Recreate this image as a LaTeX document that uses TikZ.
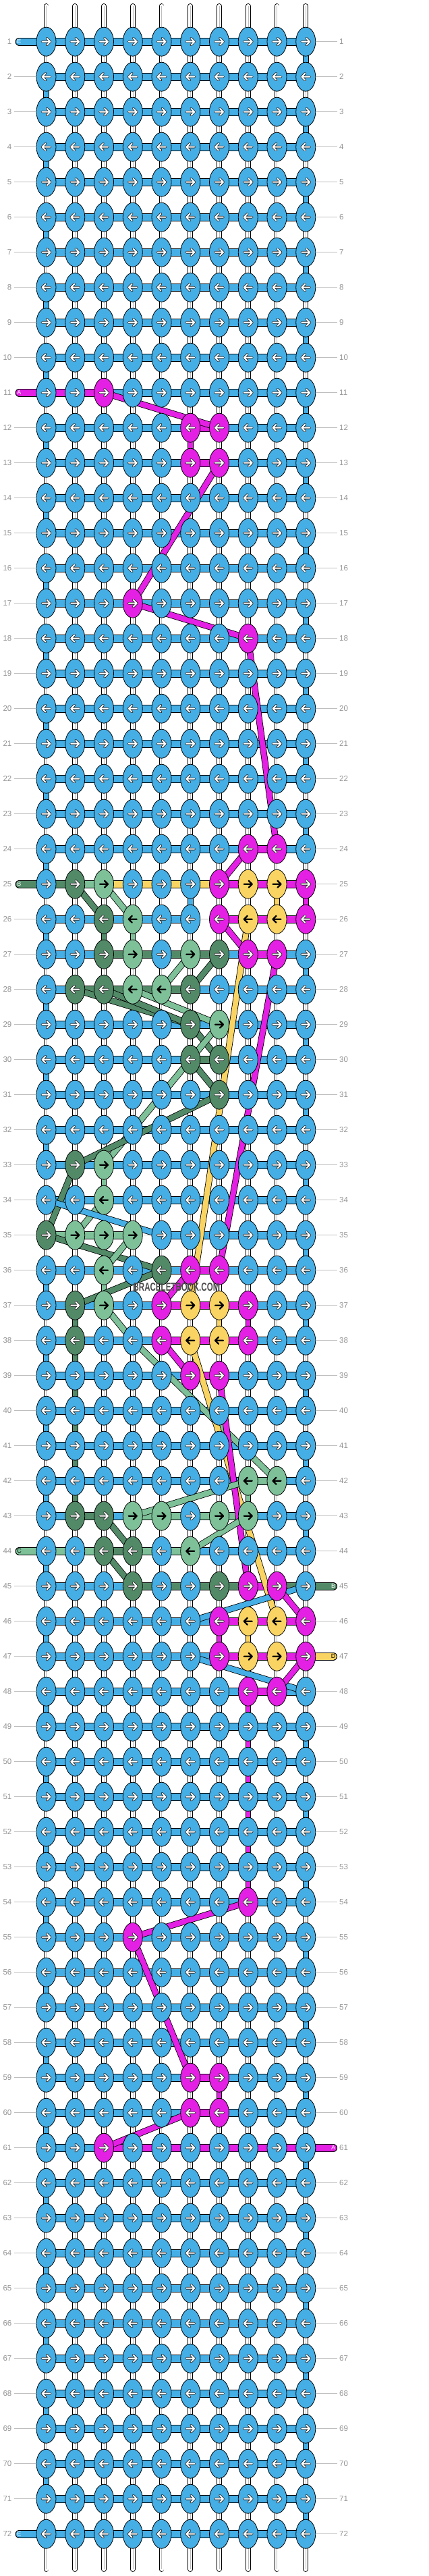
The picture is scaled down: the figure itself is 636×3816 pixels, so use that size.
\documentclass[tikz,border=0pt]{standalone}
\usepackage{fontspec}
\setmainfont{Liberation Sans}
\usetikzlibrary{shapes.geometric}

\definecolor{kblue}{RGB}{69,174,229}
\definecolor{kpink}{RGB}{228,32,228}
\definecolor{kdgreen}{RGB}{82,138,104}
\definecolor{klgreen}{RGB}{126,193,153}
\definecolor{kyellow}{RGB}{249,212,99}
\definecolor{lblgray}{RGB}{150,150,150}
\definecolor{lingray}{RGB}{190,190,190}
\definecolor{wmgray}{RGB}{75,75,75}

\pgfdeclarelayer{bg}
\pgfdeclarelayer{strands}
\pgfdeclarelayer{hthreads}
\pgfdeclarelayer{diags}
\pgfsetlayers{bg,strands,hthreads,diags,main}

\def\whitestr{white}
\def\nonestr{none}

\tikzset{
  knot/.style={ellipse, draw=black, line width=0.8pt, fill=#1,
    minimum width=29pt, minimum height=43pt, inner sep=0pt},
  hthr/.style={draw=black, line width=1pt, double=#1, double distance=10pt},
  vthr/.style={draw=black, line width=1pt, double=#1, double distance=6.5pt},
  dthr/.style={draw=black, line width=0.8pt, double=#1, double distance=8pt},
  strand/.style={draw=black, line width=0.9pt, double=white, double distance=6pt},
  strandmid/.style={draw=lingray, line width=0.5pt},
  arrw/.style={draw=white, line width=2pt, line cap=round, line join=round,
    preaction={draw=black!85, line width=3.6pt, line cap=round, line join=round}},
  arrb/.style={draw=black, line width=2.2pt, line cap=round, line join=round},
  arr-kblue/.style={arrw}, arr-kpink/.style={arrw}, arr-kdgreen/.style={arrw},
  arr-klgreen/.style={arrb}, arr-kyellow/.style={arrb},
  lbl/.style={text=lblgray, font=\fontsize{11.5}{12}\selectfont, inner sep=0pt},
  lblline/.style={draw=lingray, line width=0.8pt},
  tailtxt/.style={font=\fontsize{9}{9}\selectfont, inner sep=0pt}
}

% row/column/colour of the knots that are not blue
\newcommand\knotcolours{11/3/kpink,12/6/kpink,12/7/kpink,13/6/kpink,13/7/kpink,
17/4/kpink,18/8/kpink,24/8/kpink,24/9/kpink,
25/2/kdgreen,25/3/klgreen,25/7/kpink,25/8/kyellow,25/9/kyellow,25/10/kpink,
26/3/kdgreen,26/4/klgreen,26/7/kpink,26/8/kyellow,26/9/kyellow,26/10/kpink,
27/3/kdgreen,27/4/klgreen,27/6/klgreen,27/7/kdgreen,27/8/kpink,27/9/kpink,
28/2/kdgreen,28/3/kdgreen,28/4/klgreen,28/5/klgreen,28/6/kdgreen,
29/6/kdgreen,29/7/klgreen,30/6/kdgreen,30/7/kdgreen,31/7/kdgreen,
33/2/kdgreen,33/3/klgreen,34/3/klgreen,
35/1/kdgreen,35/2/klgreen,35/3/klgreen,35/4/klgreen,
36/3/klgreen,36/5/kdgreen,36/6/kpink,36/7/kpink,
37/2/kdgreen,37/3/klgreen,37/5/kpink,37/6/kyellow,37/7/kyellow,37/8/kpink,
38/2/kdgreen,38/5/kpink,38/6/kyellow,38/7/kyellow,38/8/kpink,
39/6/kpink,39/7/kpink,42/8/klgreen,42/9/klgreen,
43/2/kdgreen,43/3/kdgreen,43/4/klgreen,43/5/klgreen,43/7/klgreen,43/8/klgreen,
44/3/kdgreen,44/4/kdgreen,44/6/klgreen,
45/4/kdgreen,45/7/kdgreen,45/8/kpink,45/9/kpink,
46/7/kpink,46/8/kyellow,46/9/kyellow,46/10/kpink,
47/7/kpink,47/8/kyellow,47/9/kyellow,47/10/kpink,
48/8/kpink,48/9/kpink,54/8/kpink,55/4/kpink,
59/6/kpink,59/7/kpink,60/6/kpink,60/7/kpink,61/3/kpink}

% row/left column/colour of the carried thread between two knots
\newcommand\rowthreads{11/1/kpink,11/2/kpink,12/6/kpink,13/6/kpink,24/8/kpink,
25/1/kdgreen,25/2/klgreen,25/3/kyellow,25/4/kyellow,25/5/kyellow,25/6/kyellow,
25/7/kpink,25/8/kpink,25/9/kpink,
26/6/none,26/7/kpink,26/8/kpink,26/9/kpink,
27/3/kdgreen,27/4/kdgreen,27/5/kdgreen,27/6/kdgreen,27/8/kpink,
28/2/kdgreen,28/3/kdgreen,28/4/kdgreen,28/5/kdgreen,30/6/kdgreen,
35/1/klgreen,35/2/klgreen,35/3/klgreen,35/4/none,36/6/kpink,
37/5/kpink,37/6/kpink,37/7/kpink,38/5/kpink,38/6/kpink,38/7/kpink,39/6/kpink,
42/8/klgreen,43/2/kdgreen,43/4/klgreen,43/5/klgreen,43/6/klgreen,43/7/klgreen,
44/1/klgreen,44/2/klgreen,44/3/kdgreen,44/4/klgreen,44/5/klgreen,
45/4/kdgreen,45/5/kdgreen,45/6/kdgreen,45/7/kdgreen,45/8/kpink,45/9/kdgreen,
46/7/kpink,46/8/kpink,46/9/kpink,47/7/kpink,47/8/kpink,47/9/kpink,48/8/kpink,
59/6/kpink,60/6/kpink,
61/3/kpink,61/4/kpink,61/5/kpink,61/6/kpink,61/7/kpink,61/8/kpink,61/9/kpink}

% upper row/column/colour of the links between two rows
\newcommand\turnthreads{12/6/kpink,25/6/kblue,25/9/kyellow,25/10/kpink,
26/3/kdgreen,26/4/klgreen,33/3/klgreen,34/1/white,36/3/klgreen,
37/2/kdgreen,37/7/kyellow,37/8/kpink,38/2/kdgreen,39/2/kdgreen,40/2/kdgreen,
41/2/kdgreen,42/2/kdgreen,42/8/klgreen,45/10/white,46/7/kpink,46/8/kyellow,
47/10/white,48/8/kpink,49/8/kpink,50/8/kpink,51/8/kpink,52/8/kpink,53/8/kpink,
59/7/kpink}

% colour/from row/from column/to row/to column
\newcommand\crossthreads{kpink/11/3/12/7,kpink/13/7/17/4,kpink/17/4/18/8,
kpink/18/8/24/9,kpink/24/8/25/7,kdgreen/25/2/26/3,klgreen/25/3/26/4,
kpink/26/7/27/8,kyellow/26/8/37/6,kpink/27/9/36/7,klgreen/27/6/28/5,
kdgreen/27/7/28/6,kdgreen/28/2/29/6,kdgreen/28/3/29/6,klgreen/28/4/29/7,
kdgreen/29/6/30/7,klgreen/29/7/33/3,kdgreen/30/6/31/7,kdgreen/31/7/33/2,
kdgreen/33/2/35/1,klgreen/34/3/35/2,kblue/34/1/35/5,kdgreen/35/1/36/5,
klgreen/35/4/36/3,kpink/36/6/37/5,kdgreen/36/5/37/2,klgreen/37/3/38/4,
klgreen/38/4/42/9,kpink/38/5/39/6,kyellow/38/6/46/9,kpink/39/7/45/8,
klgreen/42/8/43/4,klgreen/43/8/44/6,kdgreen/43/3/44/4,kdgreen/44/3/45/4,
kblue/45/10/46/6,kpink/45/9/46/10,kblue/47/6/48/10,kpink/47/10/48/9,
kpink/54/8/55/4,kpink/55/4/59/6,kpink/60/6/61/3}

\newcommand\lefttails{1/kblue/E/white,11/kpink/A/white,25/kdgreen/B/white,44/klgreen/C/black,72/kblue/E/white}
\newcommand\righttails{45/kdgreen/B/white,47/kyellow/D/black,61/kpink/A/white}

\begin{document}
\begin{tikzpicture}[x=1pt,y=-1pt]
\useasboundingbox (0,0) rectangle (636,3816);
\begin{pgfonlayer}{bg}
\fill[white] (0,0) rectangle (636,3816);
\end{pgfonlayer}

\foreach \r/\c/\col in \knotcolours {\expandafter\xdef\csname kc-\r-\c\endcsname{\col}}
\foreach \r/\c/\col in \rowthreads {\expandafter\xdef\csname hc-\r-\c\endcsname{\col}}
\foreach \r/\c/\col in \turnthreads {\expandafter\xdef\csname vc-\r-\c\endcsname{\col}}
\foreach \r/\col/\txt/\tcol in \lefttails {\expandafter\xdef\csname ltail-\r\endcsname{1}}
\foreach \r/\col/\txt/\tcol in \righttails {\expandafter\xdef\csname rtail-\r\endcsname{1}}

% knots, arrows, row numbers
\foreach \r in {1,...,72}{
  \pgfmathsetmacro\ry{61.7+(\r-1)*52}
  \pgfmathtruncatemacro\dir{1-2*mod(\r+1,2)}
  \node[lbl, anchor=east] (ll-\r) at (17.5,\ry) {\r};
  \node[lbl, anchor=west] (rl-\r) at (503,\ry) {\r};
  \foreach \c in {1,...,10}{
    \pgfmathsetmacro\cx{68.5+(\c-1)*42.75}
    \ifcsname kc-\r-\c\endcsname\edef\kcol{\csname kc-\r-\c\endcsname}\else\def\kcol{kblue}\fi
    \node[knot=\kcol] (k-\r-\c) at (\cx,\ry) {};
    \draw[arr-\kcol] (k-\r-\c.center) ++({-6*\dir},0) -- ++({12*\dir},0)
      ++({-5*\dir},-5) -- ++({5*\dir},5) -- ++({-5*\dir},5);
  }
  \ifcsname ltail-\r\endcsname\else
    \draw[lblline, shorten <=3.5pt] (ll-\r.east) -- (k-\r-1.west);
  \fi
  \ifcsname rtail-\r\endcsname\else
    \draw[lblline, shorten >=3pt] (k-\r-10.east) -- (rl-\r.west);
  \fi
}

% strands and turns between rows
\begin{pgfonlayer}{strands}
\foreach \c in {1,...,10}{
  \pgfmathsetmacro\cx{68.5+(\c-1)*42.75}
  \coordinate (top-\c) at (\cx,9);
  \coordinate (bot-\c) at (\cx,3806);
  \draw[strand, line cap=round] (top-\c) -- (k-1-\c.center);
  \draw[strandmid] (top-\c) -- (k-1-\c.center);
  \draw[strand, line cap=round] (k-72-\c.center) -- (bot-\c);
  \draw[strandmid] (k-72-\c.center) -- (bot-\c);
  \foreach \r in {1,...,71}{
    \pgfmathtruncatemacro\rr{\r+1}
    \ifcsname vc-\r-\c\endcsname\edef\vcol{\csname vc-\r-\c\endcsname}\else
      \def\vcol{white}%
      \ifodd\r\relax\ifnum\c=10\relax\def\vcol{kblue}\fi
      \else\ifnum\c=1\relax\def\vcol{kblue}\fi\fi
    \fi
    \ifx\vcol\whitestr
      \draw[strand] (k-\r-\c.center) -- (k-\rr-\c.center);
      \draw[strandmid] (k-\r-\c.center) -- (k-\rr-\c.center);
    \else
      \draw[vthr=\vcol] (k-\r-\c.center) -- (k-\rr-\c.center);
    \fi
  }
}
\end{pgfonlayer}

% threads along the rows
\begin{pgfonlayer}{hthreads}
\foreach \r in {1,...,72}{
  \foreach \c in {1,...,9}{
    \pgfmathtruncatemacro\cc{\c+1}
    \ifcsname hc-\r-\c\endcsname\edef\hcol{\csname hc-\r-\c\endcsname}\else\def\hcol{kblue}\fi
    \ifx\hcol\nonestr
      \draw[lblline] (k-\r-\c.center) -- (k-\r-\cc.center);
    \else
      \draw[hthr=\hcol] (k-\r-\c.center) -- (k-\r-\cc.center);
    \fi
  }
}
\foreach \r/\col/\txt/\tcol in \lefttails{
  \coordinate (tl-\r) at (28.5,{61.7+(\r-1)*52});
  \draw[hthr=\col, line cap=round] (tl-\r) -- (k-\r-1.center);
}
\foreach \r/\col/\txt/\tcol in \righttails{
  \coordinate (tr-\r) at (494,{61.7+(\r-1)*52});
  \draw[hthr=\col, line cap=round] (k-\r-10.center) -- (tr-\r);
}
\end{pgfonlayer}

% threads crossing between rows
\begin{pgfonlayer}{diags}
\foreach \col/\ra/\ca/\rb/\cb in \crossthreads{
  \draw[dthr=\col] (k-\ra-\ca.center) -- (k-\rb-\cb.center);
}
\end{pgfonlayer}

\foreach \r/\col/\txt/\tcol in \lefttails{\node[tailtxt, text=\tcol] (ttl-\r) at (tl-\r) {\txt};}
\foreach \r/\col/\txt/\tcol in \righttails{\node[tailtxt, text=\tcol] (ttr-\r) at (tr-\r) {\txt};}

\node[text=wmgray, font=\bfseries\fontsize{17}{17}\selectfont, inner sep=0pt] (wm) at (261.5,1907)
  {\scalebox{0.68}[1]{BRACELETBOOK.COM}};
\end{tikzpicture}
\end{document}
